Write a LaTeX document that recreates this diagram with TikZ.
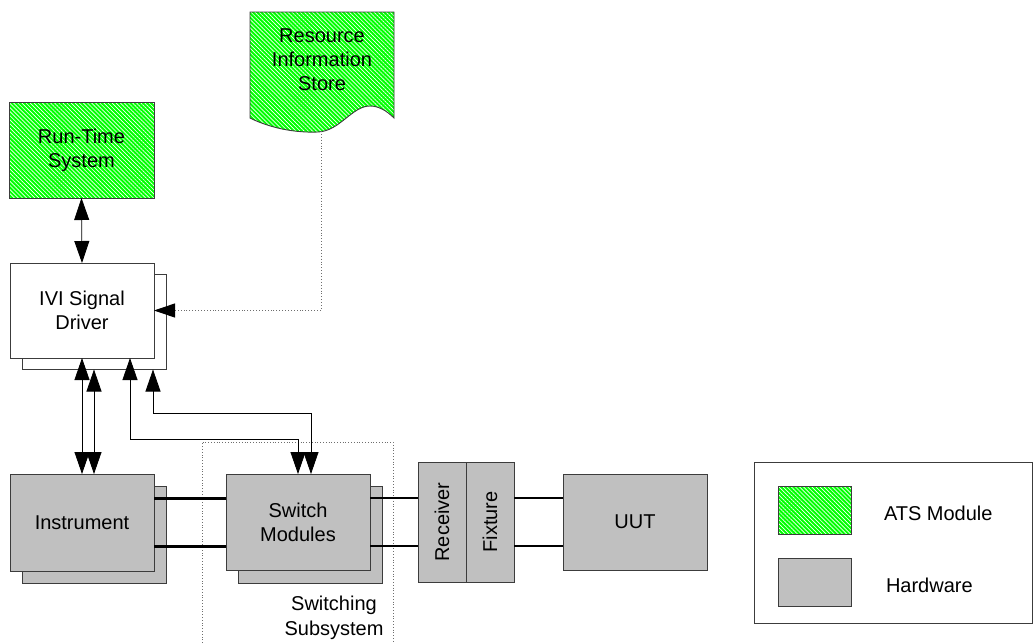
\documentclass[tikz,border=0pt]{standalone}
\usepackage{fontspec}
\setmainfont{Liberation Sans}
\usetikzlibrary{arrows.meta,patterns.meta}
\definecolor{atsgreen}{RGB}{0,255,0}
\definecolor{hwgray}{RGB}{192,192,192}
\definecolor{edge}{RGB}{60,60,60}
\definecolor{dotgray}{RGB}{110,110,110}
\begin{document}
\begin{tikzpicture}[x=1pt,y=-1pt,
  every node/.style={font=\fontsize{20}{24}\selectfont, inner sep=0pt, outer sep=0pt},
  hatch/.style={preaction={fill=atsgreen},
    pattern={Lines[angle=-45,distance=2.9pt,line width=0.65pt]}, pattern color=white},
  box/.style={draw=edge, line width=0.9pt, minimum width=144pt, minimum height=96pt, align=center},
  atsbox/.style={box, hatch},
  hwbox/.style={box, fill=hwgray},
  swbox/.style={box, fill=white},
  link/.style={draw=black, line width=0.8pt, {Triangle[length=22pt,width=15pt]}-{Triangle[length=22pt,width=15pt]}},
  dotlink/.style={draw=dotgray, line width=0.9pt, dotted, -{Triangle[length=21pt,width=14pt,color=black]}},
  bus/.style={draw=black, line width=2.6pt},
  region/.style={draw=dotgray, line width=0.8pt, dotted}
]
\useasboundingbox (0,0) rectangle (1034,643);

% switching subsystem outline (open at the bottom)
\draw[region] (202,643) -- (202,442) -- (393,442) -- (393,643);
\node[align=center, font=\fontsize{20}{25}\selectfont] (swsub) at (334,618) {Switching\\Subsystem};

% run-time system
\node[atsbox, minimum width=145pt] (rts) at (81.5,150) {Run-Time\\System};

% resource information store (document shape)
\path[hatch, draw=edge, line width=0.9pt]
  (250,12) -- (394,12) -- (394,118)
  .. controls (386,110) and (378,106) .. (370,106)
  .. controls (352,106) and (340,131) .. (318,132)
  .. controls (295,133) and (270,128) .. (250,118) -- cycle;
\node[align=center] (ris) at (322,60) {Resource\\Information\\Store};
\coordinate (risbot) at (321,131);

% signal driver
\node[swbox, minimum height=95pt] (ivish) at (94,322) {};
\node[swbox, minimum height=95pt] (ivi) at (82,310.5) {IVI Signal\\Driver};

% instrument
\node[hwbox, minimum height=97pt] (instrsh) at (94,534.5) {};
\node[hwbox, minimum height=97pt] (instr) at (82,522.5) {Instrument};

% switch modules
\node[hwbox, minimum height=97pt] (swsh) at (310,534.5) {};
\node[hwbox] (sw) at (298,522) {Switch\\Modules};

% receiver / fixture / UUT
\node[hwbox, minimum width=48pt, minimum height=120pt] (recv) at (442,522) {};
\node[rotate=90] (recvtext) at (recv.center) {Receiver};
\node[hwbox, minimum width=48pt, minimum height=120pt] (fix) at (490,522) {};
\node[rotate=90] (fixtext) at (fix.center) {Fixture};
\node[hwbox] (uut) at (635,522) {UUT};

% signal paths
\draw[bus] ([yshift=24pt]instr.east) -- ([yshift=24pt]instr.east -| sw.west);
\draw[bus] ([yshift=-24pt]instr.east) -- ([yshift=-24pt]instr.east -| sw.west);
\draw[bus] ([yshift=24pt]sw.east) -- ([yshift=24pt]sw.east -| recv.west);
\draw[bus] ([yshift=-24pt]sw.east) -- ([yshift=-24pt]sw.east -| recv.west);
\draw[bus] ([yshift=24pt]fix.east) -- ([yshift=24pt]fix.east -| uut.west);
\draw[bus] ([yshift=-24pt]fix.east) -- ([yshift=-24pt]fix.east -| uut.west);

% control connections
\draw[link] (rts.south) -- (ivi.north);
\draw[link] (ivi.south) -- (instr.north);
\draw[link] (ivish.south) -- (ivish.south |- instr.north);
\draw[link] ([xshift=48pt]ivi.south) -- ++(0,81) -| (sw.north);
\draw[link] ([xshift=59pt]ivish.south) -- ++(0,44) -| ([xshift=13pt]sw.north);
\draw[dotlink] (risbot) |- (ivi.east);

% legend
\node[draw=edge, line width=0.9pt, minimum width=278pt, minimum height=161pt] (legend) at (893,542.5) {};
\node[box, hatch, minimum width=73pt, minimum height=48pt] (keyats) at (814.5,510) {};
\node[box, fill=hwgray, minimum width=73pt, minimum height=48pt] (keyhw) at (814.5,582) {};
\node[anchor=west] (keyatstext) at (884,513) {ATS Module};
\node[anchor=west] (keyhwtext) at (886,585) {Hardware};
\end{tikzpicture}
\end{document}
